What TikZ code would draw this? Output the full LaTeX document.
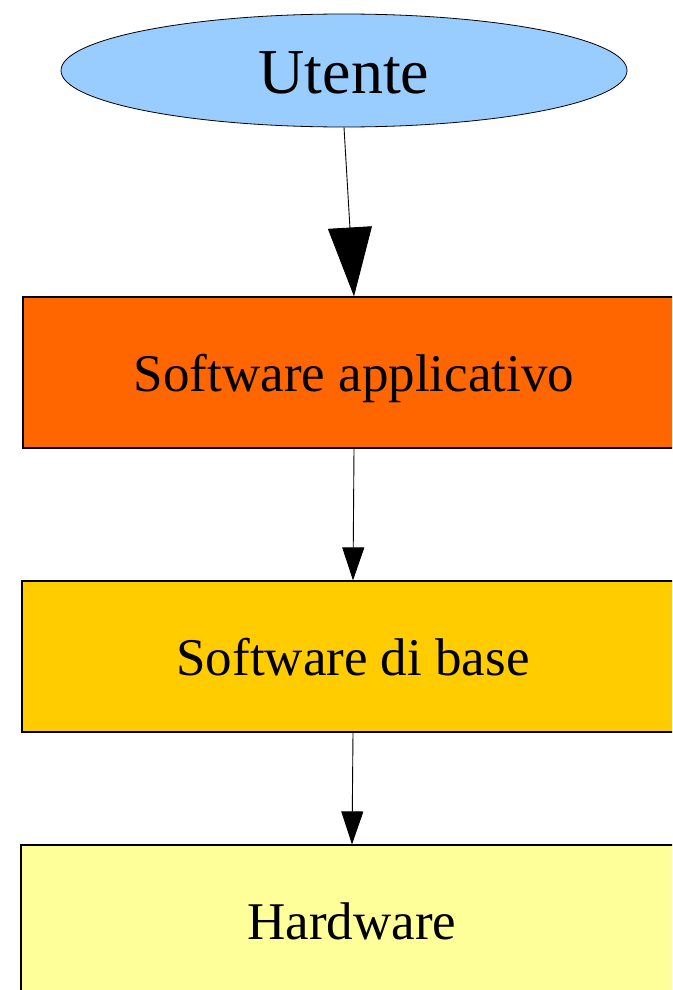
\documentclass[tikz,border=0pt]{standalone}
\usepackage{fontspec}
\setmainfont{Liberation Serif}
\usetikzlibrary{shapes.geometric,arrows.meta}
\definecolor{ublue}{HTML}{99CCFF}
\definecolor{sorange}{HTML}{FF6600}
\definecolor{syellow}{HTML}{FFCC00}
\definecolor{hyellow}{HTML}{FFFF99}
\tikzset{
  layer/.style={draw=black, line width=1.2pt, minimum width=662pt, minimum height=151pt, inner sep=0pt, text height=40pt, text depth=2pt, font=\fontsize{53}{60}\selectfont},
  userell/.style={ellipse, draw=black, line width=0.8pt, fill=ublue, minimum width=566pt, minimum height=113pt, inner sep=0pt, text height=48pt, text depth=2pt, font=\fontsize{64}{70}\selectfont},
  bigarr/.style={line width=0.9pt, -{Triangle[length=69pt,width=44pt]}},
  smallarr/.style={line width=0.9pt, -{Triangle[length=33pt,width=22pt]}}
}
\begin{document}
\begin{tikzpicture}[x=1pt,y=-1pt]
\useasboundingbox (0,0) rectangle (672,990);
\clip (0,0) rectangle (672,990);
\fill[white] (0,0) rectangle (672,990);
\node[userell] (u) at (344,70.5) {Utente};
\node[layer, fill=sorange] (sa) at (354,372.5) {Software applicativo};
\node[layer, fill=syellow] (sb) at (353,656.5) {Software di base};
\node[layer, fill=hyellow] (hw) at (352,920.5) {Hardware};
\draw[bigarr] (u.south) -- (sa.north);
\draw[smallarr] (sa.south) -- (sb.north);
\draw[smallarr] (sb.south) -- (hw.north);
\end{tikzpicture}
\end{document}
